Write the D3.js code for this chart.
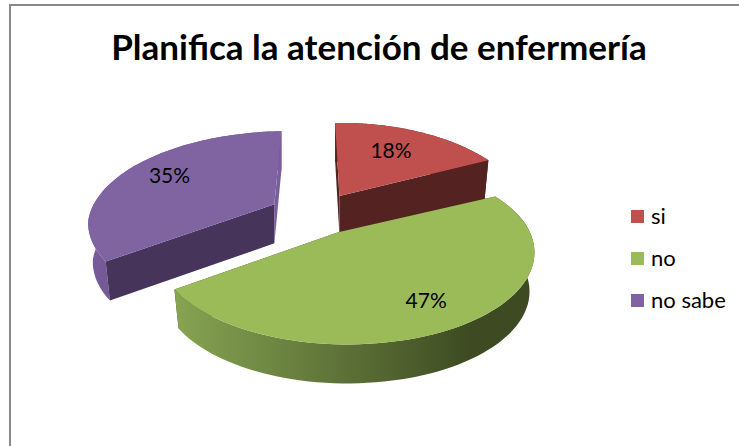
<!DOCTYPE html>
<html><head><meta charset="utf-8">
<script src="https://cdn.jsdelivr.net/npm/d3@7"></script>
<style>html,body{margin:0;padding:0;background:#fff}svg{display:block}text{font-family:Lato,"Open Sans",sans-serif;fill:#000}</style>
</head><body><svg id="c" width="739" height="446"></svg>
<script>
const titleText = "Planifica la atención de enfermería";
const categories = ["si","no","no sabe"];
const values = [18,47,35];
const labels = ["18%","47%","35%"];
const topColors = ["#c0504d","#9bbb59","#8064a2"];
const explode = [0.24,0.24,0.24];
const labelRadii = [0.63,0.79,0.7];
const widthScale = [0.95,1,1.03];

const W=739,H=446;
const svg=d3.select("#c");
svg.append("rect").attr("width",W).attr("height",H).attr("fill","#fff");
svg.append("path").attr("d",`M10 ${H}V5H${W}`).attr("fill","none").attr("stroke","#898989").attr("stroke-width",2);
const defs=svg.append("defs");

const C={x:315,y:214},A=184,AE=190,B=88.5,P=0.21,Q=0.04,D=39,SH=0.975;
const pie=d3.pie().sort(null).value(d=>d);
const arcs=pie(values);
const line=d3.line();
const color=d3.scaleOrdinal(d3.range(3),topColors);

function pt(a,i,r,z){
  const mid=(arcs[i].startAngle+arcs[i].endAngle)/2, e=explode[i];
  const u=r*Math.sin(a), v=-r*Math.cos(a);
  const eu=e*Math.sin(mid), ev=-e*Math.cos(mid);
  const w=1-P*v-Q*u;
  return [C.x+AE*eu/Math.max(w,1)+A*widthScale[i]*u/w*(1-(1-SH)*z), C.y+B*ev+B*v/w+D*z];
}
function arcPts(i,z,rev){
  const s=arcs[i].startAngle,t=arcs[i].endAngle,n=80;
  const p=d3.range(n+1).map(k=>pt(s+(t-s)*k/n,i,1,z));
  return rev?p.reverse():p;
}
const gGreen=defs.append("linearGradient").attr("id","g1").attr("gradientUnits","userSpaceOnUse").attr("x1",175).attr("x2",470).attr("y1",0).attr("y2",0);
gGreen.append("stop").attr("offset",0).attr("stop-color","#86a452");
gGreen.append("stop").attr("offset",1).attr("stop-color","#3e4b22");
const gPurple=defs.append("linearGradient").attr("id","g2").attr("gradientUnits","userSpaceOnUse").attr("x1",85).attr("x2",125).attr("y1",0).attr("y2",0);
gPurple.append("stop").attr("offset",0).attr("stop-color","#7a5e9b");
gPurple.append("stop").attr("offset",1).attr("stop-color","#6d5490");
const wallFill=["#552222","url(#g1)","url(#g2)"];
const startWall=["#552222","#3f4c22","#47345a"];
const endWall=["#552222","#3f4c22","#7a5e9b"];
const outerLast=[false,true,false];

const pieG=svg.append("g");
[2,0,1].forEach(i=>{
  const g=pieG.append("g");
  const s=arcs[i].startAngle,t=arcs[i].endAngle;
  const outer=()=>g.append("path").attr("d",line(arcPts(i,0,false).concat(arcPts(i,1,true)))+"Z").attr("fill",wallFill[i]);
  if(!outerLast[i]) outer();
  g.append("path").attr("d",line([pt(t,i,0,0),pt(t,i,1,0),pt(t,i,1,1),pt(t,i,0,1)])+"Z").attr("fill",endWall[i]);
  g.append("path").attr("d",line([pt(s,i,0,0),pt(s,i,1,0),pt(s,i,1,1),pt(s,i,0,1)])+"Z").attr("fill",startWall[i]);
  if(outerLast[i]) outer();
  g.append("path").attr("d",line([pt(s,i,0,0)].concat(arcPts(i,0,false)))+"Z").attr("fill",color(i));
});
arcs.forEach((d,i)=>{
  const m=(d.startAngle+d.endAngle)/2, p=pt(m,i,labelRadii[i],0);
  svg.append("text").attr("x",p[0]).attr("y",p[1]-4).attr("text-anchor","middle").attr("dominant-baseline","central")
    .attr("font-size",21).text(labels[i]);
});
svg.append("text").attr("x",379).attr("y",60).attr("text-anchor","middle").attr("font-size",35).attr("font-weight",700).text(titleText);
const ly=d3.scalePoint().domain(categories).range([216.5,300.5]);
categories.forEach((c,i)=>{
  svg.append("rect").attr("x",631).attr("y",ly(c)-6.5).attr("width",13).attr("height",13).attr("fill",color(i));
  svg.append("text").attr("x",651).attr("y",ly(c)+7).attr("font-size",22).text(c);
});
</script></body></html>
